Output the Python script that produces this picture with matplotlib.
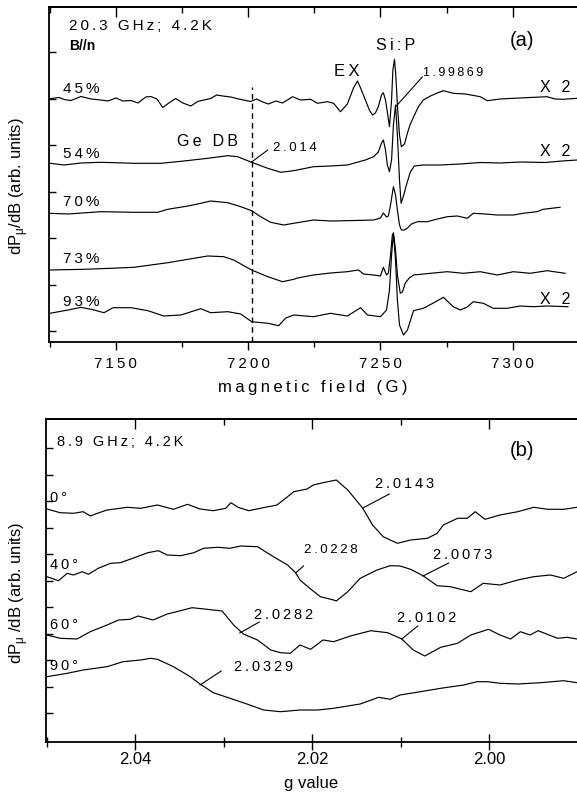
import numpy as np
import matplotlib
matplotlib.use("Agg")
import matplotlib.pyplot as plt
from matplotlib.ticker import MultipleLocator, FixedLocator, NullFormatter

plt.rcParams['font.family'] = ['Liberation Sans', 'DejaVu Sans']
plt.rcParams['mathtext.fontset'] = 'dejavusans'

# ---------------- panel (a): 20.3 GHz, field (G) vs signal (arb.) ----------------
labels_a = ['45%', '54%', '70%', '73%', '93%']
gain_a = ['X 2', 'X 2', '', '', 'X 2']

a45 = np.array([
    [7125.1, 0.3], [7128.5, 1.5], [7130.4, -0.5], [7133.0, -1.5], [7136.8, 2.5], [7140.6, 0],
    [7144.3, -1], [7147.0, -2], [7150.0, 1], [7152.6, -2], [7155.7, -1.5], [7158.3, -4],
    [7161.3, 2], [7163.2, 2.5], [7165.5, 0], [7167.7, -8.5], [7170.0, -4], [7172.6, 0.5],
    [7175.3, -4], [7178.3, -7], [7180.9, -2.5], [7183.2, -1], [7185.8, 0.5], [7188.1, 4],
    [7190.4, 3], [7193.4, 2], [7196.4, 0], [7199.1, -1.5], [7200.9, -2.5], [7203.2, 0],
    [7205.5, -3], [7207.7, -5], [7210.4, -2], [7213.0, -4], [7216.8, 2.3], [7219.8, -1],
    [7223.6, -0.3], [7226.2, -4.3], [7230.0, -2.7], [7232.3, -4.3], [7234.9, -12.7], [7237.5, -5],
    [7239.8, 11], [7241.3, 18], [7242.5, 11], [7244.3, -1], [7245.8, -11], [7247.0, -16],
    [7248.1, -14], [7249.2, -7.7], [7250.4, 4], [7251.1, 6.3], [7251.9, -1], [7252.6, -13],
    [7253.4, -27.7], [7254.2, -1], [7254.7, 29], [7255.3, 39.7], [7255.8, 24], [7256.4, -6],
    [7257.2, -36], [7257.9, -47.7], [7259.1, -45], [7260.2, -34], [7261.3, -25], [7262.5, -18],
    [7264.3, -8], [7266.2, -1], [7268.9, 3], [7271.5, 6], [7273.8, 8.3], [7277.5, 5.7],
    [7282.1, 5], [7287.7, 2.3], [7290.4, -1.7], [7295.3, 0], [7300.2, 0.7], [7306.6, 1.5],
    [7313.0, 2.3], [7316.0, 0], [7319.1, -0.3], [7324.3, 0.7]])

a54 = np.array([
    [7125.1, 0.7], [7130.4, -1], [7136.8, 1], [7144.3, 1.7], [7156.8, 0.7], [7167.0, 0.7],
    [7175.7, 3], [7184.7, 5.7], [7192.3, 8.3], [7196.0, 7.3], [7201.3, 1.7], [7207.4, -4.3],
    [7212.3, -8.3], [7217.2, -6.7], [7224.7, -2.7], [7231.1, -2], [7237.5, -1], [7244.3, 4],
    [7247.4, 7.3], [7249.2, 12], [7250.4, 21], [7251.1, 24], [7251.9, 14], [7252.6, -1],
    [7253.4, -7.7], [7254.2, 4], [7254.9, 39], [7255.7, 59], [7256.4, 29], [7257.2, -16],
    [7257.8, -39.3], [7258.7, -32], [7259.8, -21], [7261.3, -8], [7262.8, -2], [7266.2, -1],
    [7272.6, -1], [7280.2, 0], [7287.7, 1.5], [7295.3, 1], [7302.8, 2], [7312.3, 1.5],
    [7318.7, 3], [7324.3, 4]])

a70 = np.array([
    [7125.1, -1.3], [7131.9, -2], [7144.3, 0.3], [7156.8, -0.3], [7165.8, -0.3], [7169.6, 2.7],
    [7177.2, 6], [7182.1, 8.7], [7185.8, 11], [7192.3, 9.3], [7197.2, 5.3], [7201.3, 1.3],
    [7204.7, -4.7], [7208.5, -10.3], [7213.4, -13], [7217.2, -11.3], [7224.7, -8], [7231.1, -9],
    [7237.5, -8.7], [7247.4, -8], [7250.0, -6], [7251.1, -1], [7252.3, -5], [7253.0, -4],
    [7253.8, 7], [7254.9, 25.3], [7255.7, 17], [7256.4, 2], [7257.2, -13], [7257.9, -18],
    [7259.1, -18], [7260.2, -16], [7261.7, -12], [7264.0, -9.7], [7267.7, -9.7], [7271.5, -7],
    [7275.3, -4.7], [7279.1, -4], [7282.8, -6.3], [7285.1, -1.3], [7289.6, -2], [7294.2, -3],
    [7300.2, -3], [7304.7, -1], [7309.2, 0.3], [7311.5, 2.7], [7317.9, 4.7]])

a73 = np.array([
    [7125.1, -1], [7137.9, -0.3], [7148.1, 0.7], [7156.8, 1.7], [7163.2, 4], [7169.6, 6.3],
    [7177.2, 9.7], [7184.7, 13], [7190.8, 12.3], [7194.5, 9], [7201.3, -1], [7207.4, -7.7],
    [7213.0, -12.7], [7217.2, -10.3], [7218.7, -9], [7224.7, -6], [7231.1, -4], [7237.5, -2.7],
    [7241.7, -1], [7243.6, -5], [7247.4, -6], [7250.0, -7], [7251.1, 1.7], [7252.3, -6],
    [7253.0, -4], [7253.8, 14], [7254.5, 34], [7254.9, 36], [7255.7, 19], [7256.4, -6],
    [7257.5, -24.3], [7258.3, -23], [7259.4, -14], [7260.9, -9], [7262.5, -6], [7268.9, -4.3],
    [7275.3, -2.7], [7281.3, -4.3], [7287.7, -2.7], [7294.2, -6], [7300.2, -2.7], [7306.6, -4.3],
    [7313.0, -1.7], [7319.8, -4.3]])

a93 = np.array([
    [7125.1, -1.3], [7131.9, 2], [7136.8, 4.7], [7141.7, 2], [7145.5, -0.7], [7148.9, 4.3],
    [7155.7, 4.3], [7162.1, 1.3], [7168.1, -4], [7174.5, -3], [7182.1, 3.3], [7185.8, -0.7],
    [7192.3, 0.3], [7197.2, -2], [7201.3, -9.7], [7207.4, -11.3], [7211.5, -13.7], [7214.2, -6],
    [7217.2, -3], [7224.7, -4.7], [7231.1, -1.3], [7237.5, -4], [7242.5, 4.3], [7245.1, -3],
    [7250.0, -4.7], [7252.3, 2], [7253.4, 22], [7254.2, 57], [7254.9, 79], [7255.7, 52],
    [7256.4, 12], [7257.2, -13], [7258.7, -23], [7260.2, -18], [7262.5, 1.3], [7266.2, 3.7],
    [7270.0, 9], [7273.8, 14.7], [7277.5, 5.3], [7280.2, 2], [7282.8, 5], [7285.1, 10.3],
    [7288.9, 8.7], [7292.6, 3.7], [7297.9, 3.7], [7302.8, 6], [7307.7, 5.3], [7313.0, 6],
    [7320.9, 5.3]])

traces_a = [a45, a54, a70, a73, a93]
offsets_a = [243, 178, 130, 73, 30]
ge_db_field = 7201.3

# ---------------- panel (b): 8.9 GHz, g value vs signal (arb.) ----------------
labels_b = ['0°', '40°', '60°', '90°']

b0 = np.array([
    [2.0500, 0], [2.0485, -3.7], [2.0470, -4.3], [2.0459, -2.7], [2.0451, -7], [2.0443, -4.3],
    [2.0432, -1], [2.0409, 1.7], [2.0394, 0.7], [2.0375, 4], [2.0357, -0.3], [2.0341, 4.7],
    [2.0327, 0], [2.0312, -1.7], [2.0298, 0.7], [2.0292, 6.3], [2.0284, 1.7], [2.0272, -1.7],
    [2.0259, 0.7], [2.0240, 4], [2.0228, 12.3], [2.0221, 17.3], [2.0206, 20], [2.0199, 24],
    [2.0188, 26.3], [2.0173, 29], [2.0160, 19], [2.0143, 0.7], [2.0132, -16], [2.0120, -27.7],
    [2.0104, -34.3], [2.0089, -31], [2.0070, -29.3], [2.0059, -24.3], [2.0052, -16], [2.0036, -9.3],
    [2.0025, -9.3], [2.0016, -2.7], [2.0005, -10.3], [1.9988, -6], [1.9968, -2.7], [1.9950, 1.7],
    [1.9934, -0.3], [1.9916, -0.3], [1.9901, 1.7]])

b40 = np.array([
    [2.0500, -0.7], [2.0487, -4.7], [2.0477, 2.7], [2.0470, 1], [2.0460, 4.3], [2.0453, 1.7],
    [2.0442, 7.7], [2.0428, 12.7], [2.0417, 13.3], [2.0403, 17.7], [2.0386, 23.3], [2.0374, 25.3],
    [2.0364, 21], [2.0349, 20.3], [2.0334, 23.3], [2.0323, 27.7], [2.0307, 28.7], [2.0293, 27.7],
    [2.0281, 30], [2.0262, 29.3], [2.0244, 19.3], [2.0228, 11], [2.0219, 3.3], [2.0214, -4],
    [2.0202, -13], [2.0191, -20.7], [2.0176, -24], [2.0173, -25], [2.0160, -15.7], [2.0146, -2.3],
    [2.0127, 6], [2.0112, 10.3], [2.0101, 10], [2.0089, 6.7], [2.0075, 0.3], [2.0059, -9.7],
    [2.0044, -10.7], [2.0029, -14], [2.0021, -15.7], [2.0007, -7.3], [1.9988, -9], [1.9968, -4],
    [1.9950, -0.7], [1.9931, 1], [1.9916, -2.3], [1.9901, 4.3]])

b60 = np.array([
    [2.0500, 1], [2.0485, -2.3], [2.0466, -3], [2.0451, 4.3], [2.0432, 11], [2.0419, 16],
    [2.0406, 16.7], [2.0397, 20], [2.0380, 16], [2.0364, 22], [2.0349, 25.3], [2.0336, 28.3],
    [2.0319, 26.7], [2.0302, 25], [2.0289, 11], [2.0278, 2], [2.0262, -4], [2.0247, -14],
    [2.0236, -16.7], [2.0225, -17.3], [2.0214, -9], [2.0202, -13.3], [2.0188, -4], [2.0176, -5.7],
    [2.0157, 0], [2.0134, 5.3], [2.0115, 3.3], [2.0099, -3], [2.0086, -14], [2.0073, -20],
    [2.0055, -11.3], [2.0036, -7.3], [2.0021, 1], [2.0001, 6.7], [1.9988, 1], [1.9976, -3],
    [1.9965, 4.3], [1.9954, 1], [1.9945, 5.3], [1.9923, -2.3], [1.9912, -1.3], [1.9901, -3]])

b90 = np.array([
    [2.0500, 0.3], [2.0477, 3.7], [2.0459, 7], [2.0432, 10.3], [2.0414, 15.3], [2.0394, 17],
    [2.0383, 18.7], [2.0375, 17.7], [2.0357, 10.3], [2.0338, 0.3], [2.0327, -7], [2.0312, -15.7],
    [2.0293, -21.3], [2.0273, -27.3], [2.0255, -33], [2.0236, -34.7], [2.0214, -33], [2.0194, -33],
    [2.0176, -31.3], [2.0146, -27], [2.0125, -20.3], [2.0112, -22.3], [2.0101, -18], [2.0078, -14.7],
    [2.0055, -11.3], [2.0029, -8], [2.0014, -4.7], [2.0002, -4.7], [1.9988, -6.3], [1.9968, -7],
    [1.9942, -5.7], [1.9916, -3.7], [1.9901, -5.7]])

traces_b = [b0, b40, b60, b90]
offsets_b = [233, 166, 106, 65]

peaks_b = ['2.0143', '2.0228', '2.0073', '2.0282', '2.0102', '2.0329']
leader_from = [(2.0143, 234), (2.0219, 169), (2.0075, 166), (2.0282, 109), (2.0099, 103), (2.0327, 57)]
leader_to = [(2.0113, 248), (2.0210, 176), (2.0046, 179), (2.0260, 120), (2.0081, 116), (2.0303, 71)]
text_at = [(2.0129, 258), (2.0210, 192), (2.0064, 187), (2.0266, 127), (2.0104, 124), (2.0289, 75)]
text_size = [10.5, 9.5, 10.5, 10.5, 10.5, 10.5]


def sp(s):
    # the original uses wide letter spacing
    return '\u2009'.join(s)


fig = plt.figure(figsize=(5.77, 7.97), dpi=100)

# ---------------- top panel ----------------
ax = fig.add_axes([49 / 577, 455 / 797, 528 / 577, 335 / 797])
for tr, off in zip(traces_a, offsets_a):
    ax.plot(tr[:, 0], tr[:, 1] + off, color='k', lw=0.85)
for lab, g, off in zip(labels_a, gain_a, offsets_a):
    ax.text(7130.0, off + 10, sp(lab), fontsize=11, ha='left', va='center')
    if g:
        ax.text(7316.0, off + 12, sp(g), fontsize=11.5, ha='center', va='center')
ax.plot([ge_db_field, ge_db_field], [0, 255], color='k', lw=1, ls=(0, (4, 3)))

ax.text(7132.3, 316, sp('20.3 GHz; 4.2K'), fontsize=11, ha='left', va='center')
ax.text(7132.3, 296, 'B//n', fontsize=10, fontweight='bold', ha='left', va='center')
ax.text(7303.6, 302, '(a)', fontsize=14.5, ha='center', va='center')
ax.text(7173.0, 200, sp('Ge DB'), fontsize=11.5, ha='left', va='center')
ax.text(7209.2, 194, sp('2.014'), fontsize=9.5, ha='left', va='center')
ax.plot([7201.3, 7207.4], [180, 192], color='k', lw=0.8)
ax.text(7237.2, 271, sp('EX'), fontsize=12, ha='center', va='center')
ax.text(7255.7, 296, sp('Si:P'), fontsize=11.5, ha='center', va='center')
ax.text(7266.2, 269, sp('1.99869'), fontsize=9, ha='left', va='center')
ax.plot([7256.0, 7265.8], [236, 265], color='k', lw=0.8)

ax.set_xlim(7124.7, 7324.3)
ax.set_ylim(0, 335)
ax.xaxis.set_minor_locator(MultipleLocator(25))
ax.set_xticks([7150, 7200, 7250, 7300])
ax.set_xticklabels([sp(str(v)) for v in [7150, 7200, 7250, 7300]])
ax.yaxis.set_major_locator(FixedLocator(np.arange(11, 335, 46.5)))
ax.yaxis.set_major_formatter(NullFormatter())
ax.tick_params(axis='x', which='major', direction='out', length=6, width=1, labelsize=11, pad=5)
ax.tick_params(axis='x', which='minor', direction='out', length=3.5, width=1)
ax.tick_params(axis='y', which='major', direction='in', length=5, width=1)
ax.spines['right'].set_visible(False)
for s in ['left', 'top', 'bottom']:
    ax.spines[s].set_linewidth(1.3)
top = ax.secondary_xaxis('top')
top.xaxis.set_major_locator(MultipleLocator(50))
top.xaxis.set_minor_locator(MultipleLocator(25))
top.tick_params(which='major', direction='in', length=7, width=1, labeltop=False)
top.tick_params(which='minor', direction='in', length=4, width=1)
top.spines['top'].set_linewidth(1.3)
ax.set_xlabel(sp('magnetic field (G)'), fontsize=12)
ax.xaxis.set_label_coords(0.5, -0.112)

# ---------------- bottom panel ----------------
bx = fig.add_axes([46 / 577, 55 / 797, 531 / 577, 323 / 797])
for tr, off in zip(traces_b, offsets_b):
    bx.plot(tr[:, 0], tr[:, 1] + off, color='k', lw=0.85)
for lab, off in zip(labels_b, offsets_b):
    bx.text(2.0497, off + 11, sp(lab), fontsize=10.5, ha='left', va='center')
for lab, p0, p1, pt, fs in zip(peaks_b, leader_from, leader_to, text_at, text_size):
    bx.plot([p0[0], p1[0]], [p0[1], p1[1]], color='k', lw=0.8)
    bx.text(pt[0], pt[1], sp(lab), fontsize=fs, ha='left', va='center')
bx.text(2.0489, 300, sp('8.9 GHz; 4.2K'), fontsize=10.5, ha='left', va='center')
bx.text(1.9963, 291, '(b)', fontsize=14.5, ha='center', va='center')

bx.set_xlim(2.0501, 1.9901)
bx.set_ylim(0, 323)
bx.xaxis.set_major_locator(FixedLocator([2.04, 2.02, 2.00]))
bx.xaxis.set_minor_locator(FixedLocator([2.05, 2.03, 2.01, 1.99]))
bx.set_xticklabels(['2.04', '2.02', '2.00'])
bx.yaxis.set_major_locator(FixedLocator(np.arange(29, 320, 26.5)))
bx.yaxis.set_major_formatter(NullFormatter())
bx.tick_params(axis='x', which='major', direction='inout', length=12, width=1, labelsize=12, pad=1)
bx.tick_params(axis='x', which='minor', direction='inout', length=7, width=1)
bx.tick_params(axis='y', which='major', direction='in', length=5, width=1)
bx.spines['right'].set_visible(False)
for s in ['left', 'top', 'bottom']:
    bx.spines[s].set_linewidth(1.3)
btop = bx.secondary_xaxis('top')
btop.xaxis.set_major_locator(FixedLocator([2.04, 2.02, 2.00]))
btop.xaxis.set_minor_locator(FixedLocator([2.03, 2.01]))
btop.tick_params(which='major', direction='in', length=7, width=1, labeltop=False)
btop.tick_params(which='minor', direction='in', length=4, width=1)
btop.spines['top'].set_linewidth(1.3)
bx.set_xlabel('g value', fontsize=12)
bx.xaxis.set_label_coords(0.5, -0.105)

fig.text(19 / 577, 1 - 186 / 797, r'dP$_\mathregular{μ}$/dB (arb. units)', rotation=90,
         ha='center', va='center', fontsize=12)
fig.text(19 / 577, 1 - 593 / 797, r'dP$_\mathregular{μ}$ /dB (arb. units)', rotation=90,
         ha='center', va='center', fontsize=12)

fig.savefig('out.png', dpi=100)
